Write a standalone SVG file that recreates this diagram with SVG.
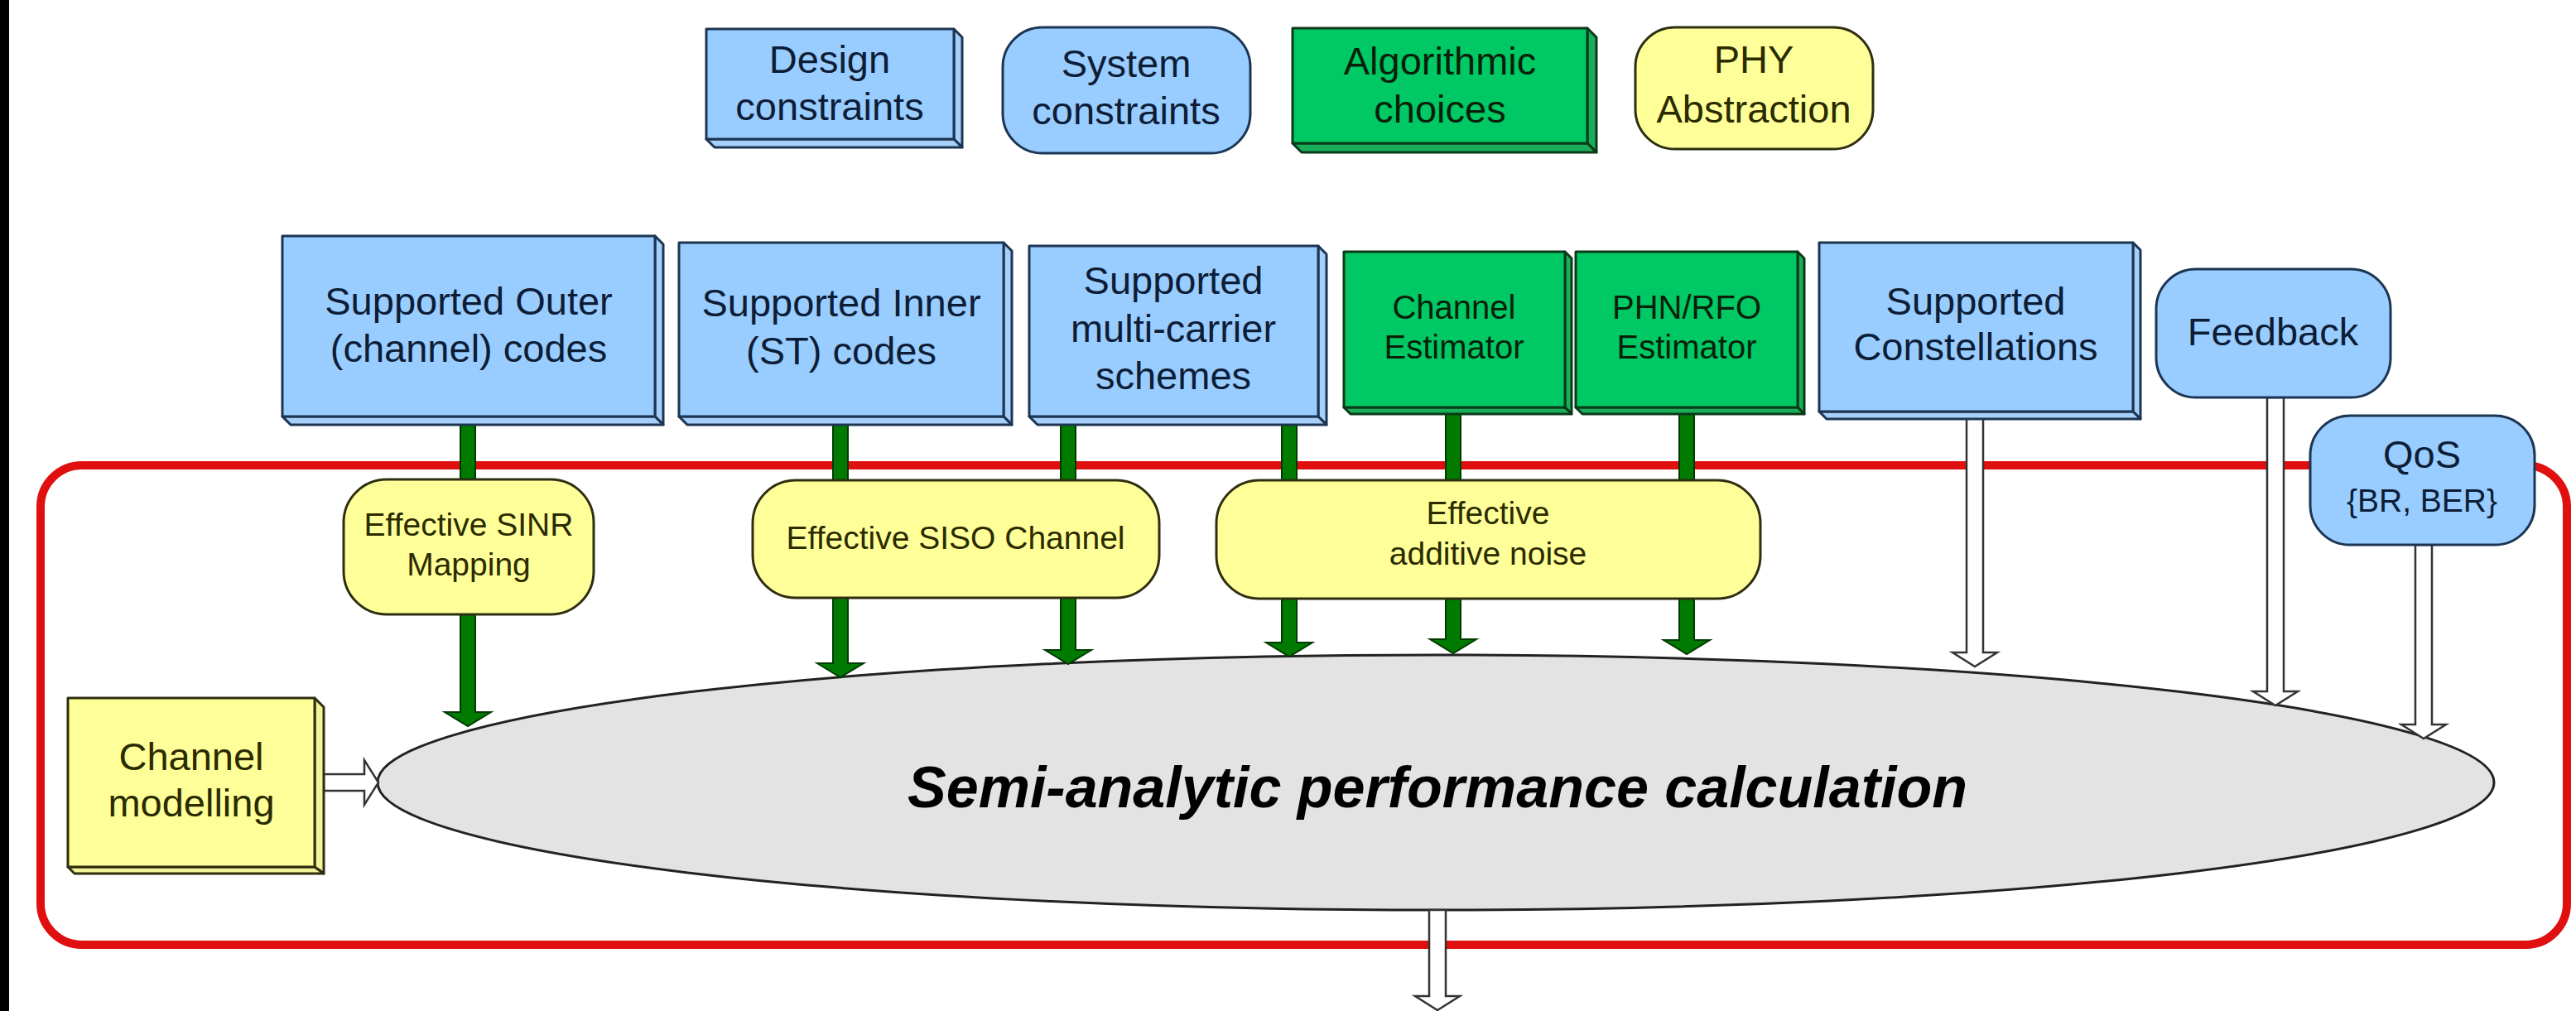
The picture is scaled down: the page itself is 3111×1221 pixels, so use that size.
<svg xmlns="http://www.w3.org/2000/svg" width="3111" height="1221" viewBox="0 0 3111 1221">
<style>
text{font-family:"Liberation Sans",Arial,sans-serif;text-anchor:middle}
.t47{font-size:47px}
.t40{font-size:40px}
.t39{font-size:39px}
.tb{fill:#0d1d36}
.tg{fill:#0a1f0a}
.ty{fill:#2b2b00}
.blue{fill:#99ccff;stroke:#1c3553;stroke-width:3;stroke-linejoin:round}
.blueD{fill:#a6d0fa;stroke:#1c3553;stroke-width:3;stroke-linejoin:round}
.green{fill:#00c864;stroke:#0a3a18;stroke-width:3;stroke-linejoin:round}
.greenD{fill:#1aae5a;stroke:#0a3a18;stroke-width:3;stroke-linejoin:round}
.yellow{fill:#ffff99;stroke:#2e2e10;stroke-width:3;stroke-linejoin:round}
.yellowD{fill:#f4f49a;stroke:#2e2e10;stroke-width:3;stroke-linejoin:round}
.garrow{fill:#007a00;stroke:#003a00;stroke-width:2;stroke-linejoin:miter}
.harrow{fill:#ffffff;stroke:#333333;stroke-width:2.5;stroke-linejoin:miter}
</style>
<rect x="0" y="0" width="3111" height="1221" fill="#ffffff"/>
<rect x="0" y="0" width="11" height="1221" fill="#000000"/>
<rect id="boundary" x="49" y="562" width="3051" height="579" rx="50" ry="50" fill="none" stroke="#e01010" stroke-width="10"/>

<g id="semi-analytic">
<ellipse cx="1734" cy="945" rx="1278" ry="154" fill="#e3e3e3" stroke="#222222" stroke-width="3"/>
<text x="1736" y="975" style="font-size:70px;font-weight:bold;font-style:italic" fill="#000000">Semi-analytic performance calculation</text>
</g>

<g id="connectors">
<rect class="garrow" x="556" y="513" width="18" height="66"/>
<rect class="garrow" x="1006" y="513" width="18" height="67"/>
<rect class="garrow" x="1281" y="513" width="18" height="67"/>
<rect class="garrow" x="1548" y="513" width="18" height="67"/>
<rect class="garrow" x="1746" y="500" width="18" height="80"/>
<rect class="garrow" x="2028" y="500" width="18" height="80"/>
<path class="garrow" d="M556,742 L574,742 L574,860 L593,860 L565,877 L537,860 L556,860 Z"/>
<path class="garrow" d="M1006,722 L1024,722 L1024,801 L1043,801 L1015,818 L987,801 L1006,801 Z"/>
<path class="garrow" d="M1281,722 L1299,722 L1299,785 L1318,785 L1290,802 L1262,785 L1281,785 Z"/>
<path class="garrow" d="M1548,723 L1566,723 L1566,776 L1585,776 L1557,793 L1529,776 L1548,776 Z"/>
<path class="garrow" d="M1746,723 L1764,723 L1764,772 L1783,772 L1755,789 L1727,772 L1746,772 Z"/>
<path class="garrow" d="M2028,723 L2046,723 L2046,773 L2065,773 L2037,790 L2009,773 L2028,773 Z"/>
<path class="harrow" d="M2375,505 L2395,505 L2395,788 L2412,788 L2385,805 L2358,788 L2375,788 Z"/>
<path class="harrow" d="M2738,480 L2758,480 L2758,835 L2775,835 L2748,852 L2721,835 L2738,835 Z"/>
<path class="harrow" d="M2917,658 L2937,658 L2937,875 L2954,875 L2927,892 L2900,875 L2917,875 Z"/>
<path class="harrow" d="M391,935 L391,955 L440,955 L440,972 L457,945 L440,918 L440,935 Z"/>
<path class="harrow" d="M1726,1099 L1746,1099 L1746,1203 L1763,1203 L1736,1220 L1709,1203 L1726,1203 Z"/>
</g>

<g id="legend-design">
<path class="blueD" d="M1152,35 L1162,45 L1162,178 L1152,168 Z"/>
<path class="blueD" d="M853,168 L1152,168 L1162,178 L863,178 Z"/>
<rect class="blue" x="853" y="35" width="299" height="133"/>
<text class="t47 tb" x="1002" y="88">Design</text>
<text class="t47 tb" x="1002" y="145">constraints</text>
</g>
<g id="legend-system">
<rect class="blue" x="1211" y="33" width="299" height="152" rx="48" ry="48"/>
<text class="t47 tb" x="1360" y="93">System</text>
<text class="t47 tb" x="1360" y="150">constraints</text>
</g>
<g id="legend-algorithmic">
<path class="greenD" d="M1917,34 L1928,45 L1928,184 L1917,173 Z"/>
<path class="greenD" d="M1561,173 L1917,173 L1928,184 L1572,184 Z"/>
<rect class="green" x="1561" y="34" width="356" height="139"/>
<text class="t47 tg" x="1739" y="90">Algorithmic</text>
<text class="t47 tg" x="1739" y="148">choices</text>
</g>
<g id="legend-phy">
<rect class="yellow" x="1975" y="33" width="287" height="147" rx="48" ry="48"/>
<text class="t47 ty" x="2118" y="88">PHY</text>
<text class="t47 ty" x="2118" y="148">Abstraction</text>
</g>

<g id="outer-codes">
<path class="blueD" d="M791,285 L801,295 L801,513 L791,503 Z"/>
<path class="blueD" d="M341,503 L791,503 L801,513 L351,513 Z"/>
<rect class="blue" x="341" y="285" width="450" height="218"/>
<text class="t47 tb" x="566" y="380">Supported Outer</text>
<text class="t47 tb" x="566" y="437">(channel) codes</text>
</g>
<g id="inner-codes">
<path class="blueD" d="M1212,293 L1222,303 L1222,513 L1212,503 Z"/>
<path class="blueD" d="M820,503 L1212,503 L1222,513 L830,513 Z"/>
<rect class="blue" x="820" y="293" width="392" height="210"/>
<text class="t47 tb" x="1016" y="382">Supported Inner</text>
<text class="t47 tb" x="1016" y="440">(ST) codes</text>
</g>
<g id="multi-carrier">
<path class="blueD" d="M1592,297 L1602,307 L1602,513 L1592,503 Z"/>
<path class="blueD" d="M1243,503 L1592,503 L1602,513 L1253,513 Z"/>
<rect class="blue" x="1243" y="297" width="349" height="206"/>
<text class="t47 tb" x="1417" y="355">Supported</text>
<text class="t47 tb" x="1417" y="413">multi-carrier</text>
<text class="t47 tb" x="1417" y="470">schemes</text>
</g>
<g id="channel-estimator">
<path class="greenD" d="M1890,304 L1898,312 L1898,500 L1890,492 Z"/>
<path class="greenD" d="M1623,492 L1890,492 L1898,500 L1631,500 Z"/>
<rect class="green" x="1623" y="304" width="267" height="188"/>
<text class="t40 tg" x="1756" y="385">Channel</text>
<text class="t40 tg" x="1756" y="433">Estimator</text>
</g>
<g id="phn-rfo-estimator">
<path class="greenD" d="M2171,304 L2179,312 L2179,500 L2171,492 Z"/>
<path class="greenD" d="M1903,492 L2171,492 L2179,500 L1911,500 Z"/>
<rect class="green" x="1903" y="304" width="268" height="188"/>
<text class="t40 tg" x="2037" y="385">PHN/RFO</text>
<text class="t40 tg" x="2037" y="433">Estimator</text>
</g>
<g id="constellations">
<path class="blueD" d="M2576,293 L2585,302 L2585,506 L2576,497 Z"/>
<path class="blueD" d="M2197,497 L2576,497 L2585,506 L2206,506 Z"/>
<rect class="blue" x="2197" y="293" width="379" height="204"/>
<text class="t47 tb" x="2386" y="380">Supported</text>
<text class="t47 tb" x="2386" y="435">Constellations</text>
</g>
<g id="feedback">
<rect class="blue" x="2604" y="325" width="283" height="155" rx="48" ry="48"/>
<text class="t47 tb" x="2745" y="417">Feedback</text>
</g>
<g id="qos">
<rect class="blue" x="2790" y="502" width="271" height="156" rx="48" ry="48"/>
<text class="t47 tb" x="2925" y="565">QoS</text>
<text class="t39 tb" x="2925" y="618">{BR, BER}</text>
</g>

<g id="sinr-mapping">
<rect class="yellow" x="415" y="579" width="302" height="163" rx="52" ry="52"/>
<text class="t39 ty" x="566" y="647">Effective SINR</text>
<text class="t39 ty" x="566" y="695">Mapping</text>
</g>
<g id="siso-channel">
<rect class="yellow" x="909" y="580" width="491" height="142" rx="52" ry="52"/>
<text class="t39 ty" x="1154" y="663">Effective SISO Channel</text>
</g>
<g id="additive-noise">
<rect class="yellow" x="1469" y="580" width="657" height="143" rx="52" ry="52"/>
<text class="t39 ty" x="1797" y="633">Effective</text>
<text class="t39 ty" x="1797" y="682">additive noise</text>
</g>

<g id="channel-modelling">
<path class="yellowD" d="M380,843 L391,854 L391,1055 L380,1047 Z"/>
<path class="yellowD" d="M82,1047 L380,1047 L391,1055 L90,1055 Z"/>
<rect class="yellow" x="82" y="843" width="298" height="204"/>
<text class="t47 ty" x="231" y="930">Channel</text>
<text class="t47 ty" x="231" y="986">modelling</text>
</g>
</svg>
